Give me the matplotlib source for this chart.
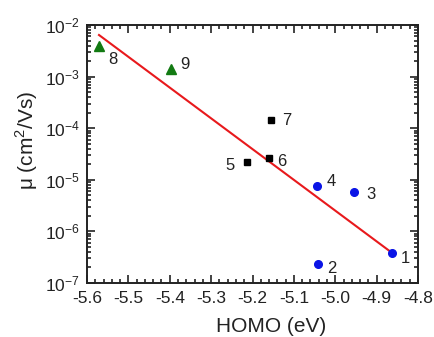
import matplotlib
matplotlib.use("Agg")
import matplotlib.pyplot as plt
from matplotlib.ticker import LogLocator, MultipleLocator, NullFormatter, FuncFormatter

plt.rcParams['font.family'] = ['Liberation Sans', 'DejaVu Sans']
plt.rcParams['mathtext.fontset'] = 'custom'
plt.rcParams['mathtext.rm'] = 'Liberation Sans'

# Data
circ_x = [-4.862, -5.042, -4.955, -5.045]
circ_y = [3.8e-7, 2.3e-7, 5.9e-6, 7.6e-6]
circ_lab = ['1', '2', '3', '4']
sq_x = [-5.214, -5.160, -5.155]
sq_y = [2.25e-5, 2.6e-5, 1.44e-4]
sq_lab = ['5', '6', '7']
tri_x = [-5.571, -5.397]
tri_y = [3.9e-3, 1.4e-3]
tri_lab = ['8', '9']
fit_x = [-5.571, -4.862]
fit_y = [6.4e-3, 3.8e-7]

W, H = 435, 337
fig = plt.figure(figsize=(W/100, H/100), dpi=100)
ax = fig.add_axes([87/W, 1-283/H, 331/W, 258/H])

ax.plot(fit_x, fit_y, color='#e8191c', lw=1.5, zorder=2)
ax.plot(circ_x, circ_y, 'o', color='#0a14e6', ms=5.5, zorder=3)
ax.plot(sq_x, sq_y, 's', color='black', ms=5, zorder=3)
ax.plot(tri_x, tri_y, '^', color='#127a12', ms=6.5, zorder=3)

fs = 12
# label offsets in points
offsets = {'1': (6, -4), '2': (7, -3), '3': (9, -2), '4': (7, 3),
           '5': (-15, -3), '6': (6, -2), '7': (8, 0), '8': (7, -10), '9': (7, 3)}
for xs, ys, labs in [(circ_x, circ_y, circ_lab), (sq_x, sq_y, sq_lab), (tri_x, tri_y, tri_lab)]:
    for x, y, l in zip(xs, ys, labs):
        dx, dy = offsets[l]
        ax.annotate(l, (x, y), xytext=(dx, dy), textcoords='offset points',
                    fontsize=fs, ha='left', va='center', color='#222222')

ax.set_yscale('log')
ax.set_xlim(-5.6, -4.8)
ax.set_ylim(1e-7, 1e-2)
ax.xaxis.set_major_locator(MultipleLocator(0.1))
ax.xaxis.set_minor_locator(MultipleLocator(0.02))
ax.xaxis.set_major_formatter(FuncFormatter(lambda v, p: f"{v:.1f}"))
ax.yaxis.set_major_locator(LogLocator(base=10, numticks=10))
ax.yaxis.set_minor_locator(LogLocator(base=10, subs=range(2, 10), numticks=20))
ax.yaxis.set_minor_formatter(NullFormatter())

ax.tick_params(which='both', direction='in', top=True, right=True, labelsize=12.5,
               width=1.2, colors='#222222')
ax.tick_params(which='major', length=6)
ax.tick_params(which='minor', length=3)
ax.tick_params(axis='x', pad=6)
ax.tick_params(axis='y', pad=5)
for s in ax.spines.values():
    s.set_linewidth(1.4)
    s.set_color('#222222')

fig.text(271/W, 1-326/H, 'HOMO (eV)', fontsize=15, ha='center', va='center', color='#222222')
fig.text(27/W, 1-140/H, 'μ (cm$^2$/Vs)', fontsize=15, ha='center', va='center',
         rotation=90, color='#222222')

fig.savefig('out.png', dpi=100)
